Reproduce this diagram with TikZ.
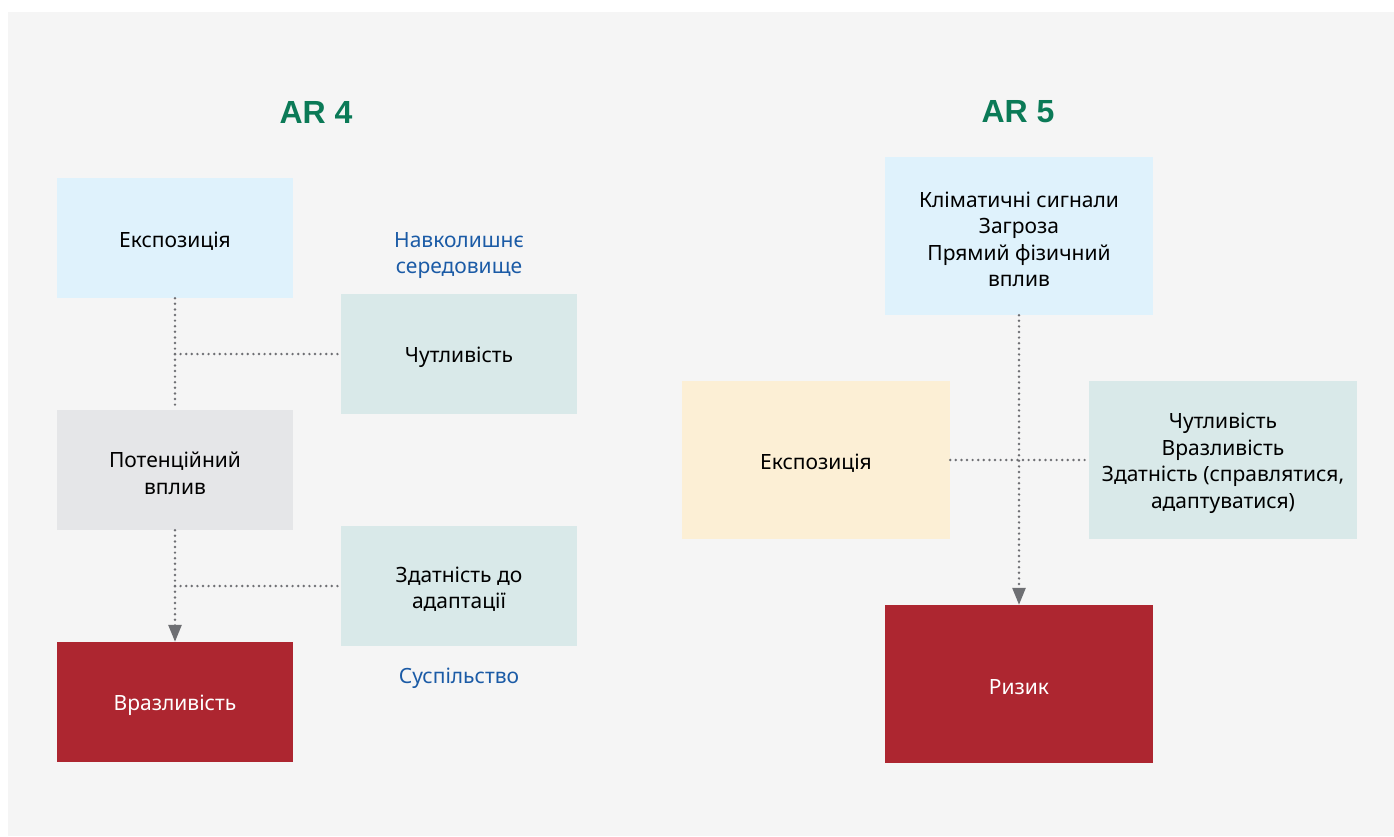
\documentclass[tikz,border=0pt]{standalone}
\usepackage{fontspec}
\setmainfont{Noto Sans}
\newfontfamily\titlefont{Liberation Sans}
\usetikzlibrary{arrows.meta,calc}
\newcommand\topstrut{\rule{0pt}{22pt}}
\definecolor{bgc}{HTML}{F5F5F5}
\definecolor{lblue}{HTML}{DFF2FC}
\definecolor{lteal}{HTML}{D9E9E9}
\definecolor{lgray}{HTML}{E5E6E8}
\definecolor{dred}{HTML}{AD2630}
\definecolor{cream}{HTML}{FCEFD5}
\definecolor{tgreen}{HTML}{0B7A57}
\definecolor{tblue}{HTML}{1B5BA6}
\definecolor{lnc}{HTML}{6E6F73}
\begin{document}
\begin{tikzpicture}[x=1pt,y=-1pt,
  box/.style={draw=none, inner sep=0pt, align=center, font=\fontsize{21}{26.5}\selectfont},
  smallbox/.style={box, minimum width=236pt, minimum height=120pt},
  bigbox/.style={box, minimum width=268pt, minimum height=158pt},
  title/.style={font=\titlefont\fontsize{32}{36}\selectfont\bfseries, text=tgreen},
  side/.style={font=\fontsize{21}{26}\selectfont, text=tblue, align=center},
  dotline/.style={draw=lnc, line width=2.7pt, line cap=round, dash pattern=on 0pt off 5.6pt},
  arrowline/.style={dotline, -{Triangle[width=13pt,length=17pt,line cap=butt]}}
]
\useasboundingbox (0,0) rectangle (1394,836);
\fill[bgc] (8,12) rectangle (1394,836);

% AR 4
\node[title] (t4) at (316,112) {AR 4};
\node[smallbox, fill=lblue] (e1) at (175,238) {\topstrut Експозиція};
\node[smallbox, fill=lteal] (s1) at (459,354) {\topstrut Чутливість};
\node[smallbox, fill=lgray] (p1) at (175,470) {\topstrut Потенційний\\вплив};
\node[smallbox, fill=lteal] (a1) at (459,586) {\topstrut Здатність до\\адаптації};
\node[smallbox, fill=dred, text=white] (v1) at (175,702) {\topstrut Вразливість};
\node[side] (env) at (459,256) {Навколишнє\\середовище};
\node[side] (soc) at (459,678) {Суспільство};

\coordinate (m1) at ($(e1.south)!0.5!(p1.north)$);
\coordinate (m2) at ($(p1.south)!0.5!(v1.north)$);
\draw[dotline] (e1.south) -- (p1.north);
\draw[dotline] (m1) -- (s1.west);
\draw[arrowline] (p1.south) -- (v1.north);
\draw[dotline] (m2) -- (a1.west);

% AR 5
\node[title] (t5) at (1018,112) {AR 5};
\node[bigbox, fill=lblue] (c2) at (1019,236) {\topstrut Кліматичні сигнали\\Загроза\\Прямий фізичний\\вплив};
\node[bigbox, fill=cream] (e2) at (816,460) {\topstrut Експозиція};
\node[bigbox, fill=lteal] (s2) at (1223,460) {\topstrut Чутливість\\Вразливість\\Здатність (справлятися,\\адаптуватися)};
\node[bigbox, fill=dred, text=white] (r2) at (1019,684) {\topstrut Ризик};

\draw[dotline] (e2.east) -- (s2.west);
\draw[arrowline] (c2.south) -- (r2.north);
\end{tikzpicture}
\end{document}
